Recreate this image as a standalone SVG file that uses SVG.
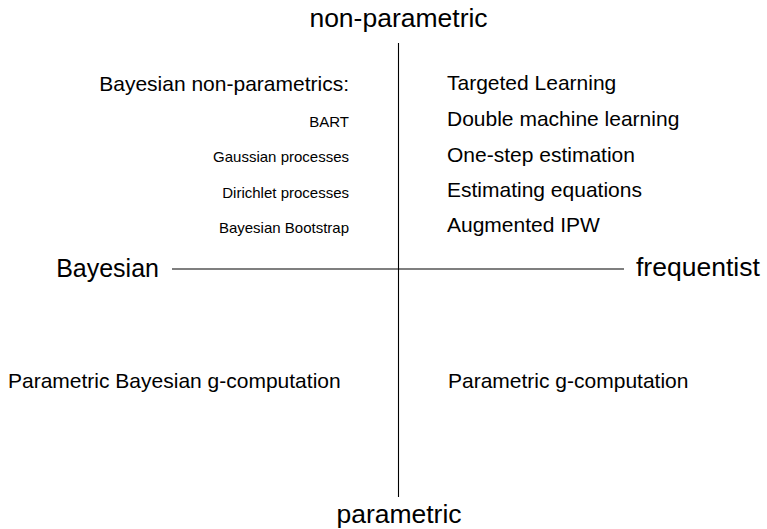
<svg xmlns="http://www.w3.org/2000/svg" width="767" height="529" viewBox="0 0 767 529">
<style>
text { font-family: "Liberation Sans", Arial, sans-serif; fill: #000; }
.axis { font-size: 26.5px; }
.item { font-size: 21px; }
.sub { font-size: 15px; }
.end { text-anchor: end; }
.mid { text-anchor: middle; }
line { stroke: #000; stroke-width: 1.1; }
</style>
<rect width="767" height="529" fill="#fff"/>
<g id="connectors">
<line x1="398.5" y1="43" x2="398.5" y2="497"/>
<line x1="172" y1="269" x2="624" y2="269"/>
</g>
<g id="axis-top"><text class="axis mid" x="398.5" y="27">non-parametric</text></g>
<g id="axis-bottom"><text class="axis mid" x="399" y="523">parametric</text></g>
<g id="axis-left"><text class="axis end" x="159" y="277" style="font-size:25px">Bayesian</text></g>
<g id="axis-right"><text class="axis" x="636" y="276">frequentist</text></g>
<g id="bayes-np">
<text class="item end" x="349" y="91">Bayesian non-parametrics:</text>
<text class="sub end" x="349" y="127">BART</text>
<text class="sub end" x="349" y="162">Gaussian processes</text>
<text class="sub end" x="349" y="198">Dirichlet processes</text>
<text class="sub end" x="349" y="233">Bayesian Bootstrap</text>
</g>
<g id="freq-np">
<text class="item" x="447" y="90">Targeted Learning</text>
<text class="item" x="447" y="126">Double machine learning</text>
<text class="item" x="447" y="162">One-step estimation</text>
<text class="item" x="447" y="197">Estimating equations</text>
<text class="item" x="447" y="232">Augmented IPW</text>
</g>
<g id="bayes-p"><text class="item" x="8" y="388">Parametric Bayesian g-computation</text></g>
<g id="freq-p"><text class="item" x="448" y="388">Parametric g-computation</text></g>
</svg>
